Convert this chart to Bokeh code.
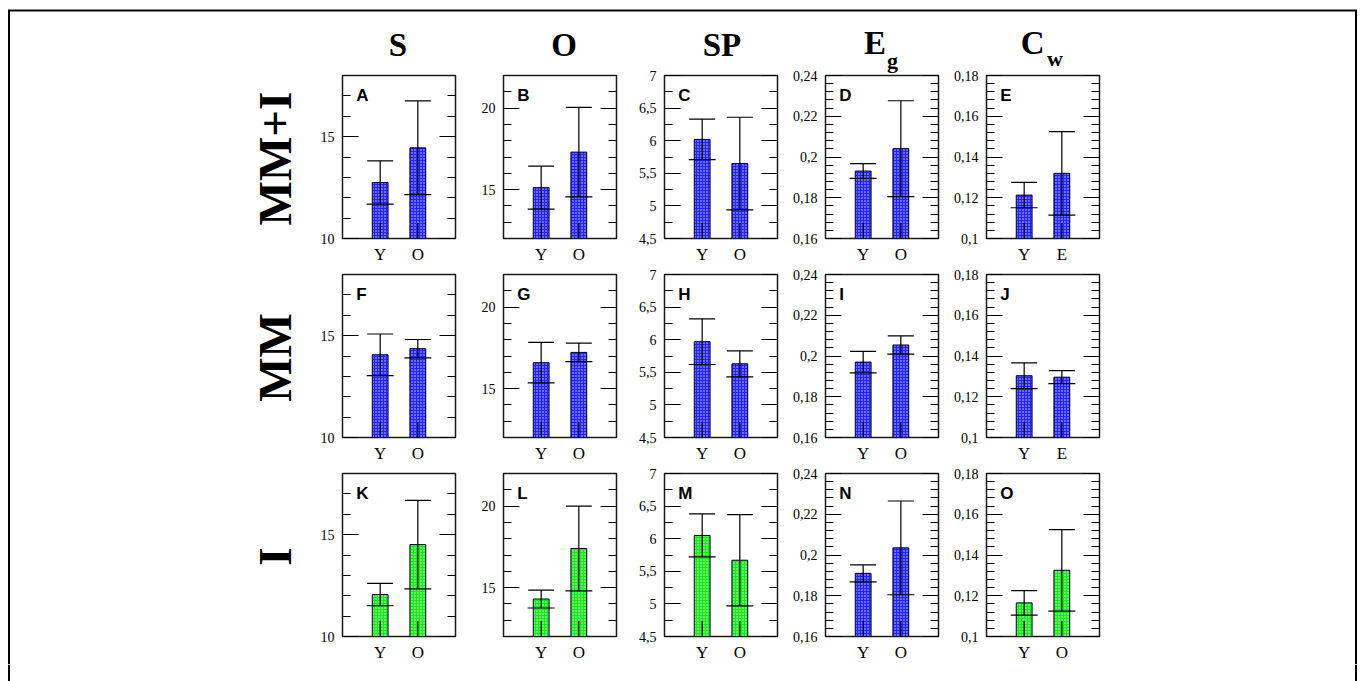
from bokeh.plotting import figure
from bokeh.models import (Range1d, FactorRange, LinearAxis, FixedTicker,
                          CustomJSTickFormatter, ColumnDataSource, Whisker,
                          TeeHead)
from bokeh.layouts import column, row
from bokeh.embed import file_html
from bokeh.resources import INLINE
from bokeh.core.properties import value

# ---------------- data ----------------
ROWS = ["MM+I", "MM", "I"]
COLS = ["S", "O", "SP", "Eg", "Cw"]
LETTERS = [["A", "B", "C", "D", "E"],
           ["F", "G", "H", "I", "J"],
           ["K", "L", "M", "N", "O"]]
GROUPS = ["Y", "O"]
GROUPS_CW = [["Y", "E"], ["Y", "E"], ["Y", "O"]]

# means / error (rows: MM+I, MM, I ; each [Y, O])
S_mean = [[12.75, 14.45], [14.06, 14.36], [12.06, 14.51]]
S_err = [[1.06, 2.30], [1.02, 0.45], [0.55, 2.17]]
O_mean = [[15.12, 17.30], [16.59, 17.22], [14.30, 17.40]]
O_err = [[1.32, 2.75], [1.24, 0.57], [0.55, 2.60]]
SP_mean = [[6.02, 5.65], [5.97, 5.63], [6.05, 5.67]]
SP_err = [[0.31, 0.71], [0.35, 0.20], [0.33, 0.70]]
Eg_mean = [[0.1931, 0.2041], [0.1970, 0.2054], [0.1910, 0.2035]]
Eg_err = [[0.0036, 0.0235], [0.0053, 0.0045], [0.0042, 0.0230]]
Cw_mean = [[0.1213, 0.1320], [0.1303, 0.1296], [0.1165, 0.1325]]
Cw_err = [[0.0062, 0.0205], [0.0063, 0.0032], [0.0060, 0.0200]]

# axes
S_range = (10, 18)
S_major = [10, 15]
S_minor = [11, 12, 13, 14, 16, 17]
O_range = (12, 22)
O_major = [15, 20]
O_minor = [13, 14, 16, 17, 18, 19, 21]
SP_range = (4.5, 7)
SP_major = [4.5, 5, 5.5, 6, 6.5, 7]
SP_minor = [4.75, 5.25, 5.75, 6.25, 6.75]
Eg_range = (0.16, 0.24)
Eg_major = [0.16, 0.18, 0.2, 0.22, 0.24]
Eg_minor = [0.164, 0.168, 0.172, 0.176, 0.184, 0.188, 0.192, 0.196,
            0.204, 0.208, 0.212, 0.216, 0.224, 0.228, 0.232, 0.236]
Cw_range = (0.1, 0.18)
Cw_major = [0.1, 0.12, 0.14, 0.16, 0.18]
Cw_minor = [0.104, 0.108, 0.112, 0.116, 0.124, 0.128, 0.132, 0.136,
            0.144, 0.148, 0.152, 0.156, 0.164, 0.168, 0.172, 0.176]

MEANS = [S_mean, O_mean, SP_mean, Eg_mean, Cw_mean]
ERRS = [S_err, O_err, SP_err, Eg_err, Cw_err]
RANGES = [S_range, O_range, SP_range, Eg_range, Cw_range]
MAJORS = [S_major, O_major, SP_major, Eg_major, Cw_major]
MINORS = [S_minor, O_minor, SP_minor, Eg_minor, Cw_minor]

# ---------------- layout constants (page has no margin) ----------------
TOTAL_W = 1358
TOTAL_H = 681
HDR_H = 75          # header overlaps the first panel row by HDR_OVER px
HDR_OVER = 8
LBL_W = 302
PW = 161
ML, MR = 40, 8
FRAME_W = PW - ML - MR
FRAME_H = 166
T, B = 8, 25
PH = T + FRAME_H + B
GRID_W = PW * 5
GRID_H = PH * 3
RIGHT_W = TOTAL_W - LBL_W - GRID_W
FOOT_H = TOTAL_H - (HDR_H - HDR_OVER) - GRID_H
BORDER_L = 8.5
BORDER_R = 1355.5
BORDER_T = 10

BLUE = "#2424ff"
GREEN = "#1ee61e"
SERIF = "Liberation Serif"
SANS = "Liberation Sans"

fmt_code = "return String(Math.round(tick * 10000) / 10000).replace('.', ',');"


def make_panel(r, c):
    lo, hi = RANGES[c]
    cats = GROUPS_CW[r] if c == 4 else GROUPS
    means = MEANS[c][r]
    errs = ERRS[c][r]
    color = GREEN if (r == 2 and c != 3) else BLUE
    p = figure(width=PW, height=PH,
               x_range=FactorRange(factors=cats, range_padding=0.5),
               y_range=Range1d(lo, hi),
               output_backend="svg", toolbar_location=None,
               min_border_left=ML, min_border_right=MR,
               min_border_top=T, min_border_bottom=B)
    p.xgrid.visible = False
    p.ygrid.visible = False
    p.outline_line_color = "#1a1a1a"
    p.outline_line_width = 1.5

    src = ColumnDataSource(dict(
        x=cats, top=means,
        upper=[m + e for m, e in zip(means, errs)],
        lower=[m - e for m, e in zip(means, errs)],
        base=[lo, lo],
        stub=[lo + 0.095 * (hi - lo)] * 2,
    ))
    p.vbar(x="x", top="top", bottom="base", width=0.42, source=src,
           fill_color=color, line_color="#000022", line_width=1,
           hatch_pattern=".", hatch_color="white", hatch_alpha=0.8,
           hatch_scale=3, hatch_weight=1)
    p.segment(x0="x", y0="base", x1="x", y1="stub", source=src,
              line_color="black", line_width=1.2)
    w = Whisker(source=src, base="x", upper="upper", lower="lower",
                line_color="black", line_width=1.2, level="overlay",
                upper_head=TeeHead(size=26, line_color="black", line_width=1.2),
                lower_head=TeeHead(size=27, line_color="black", line_width=1.2))
    p.add_layout(w)

    p.text(x=[cats[0]], y=[hi], text=[LETTERS[r][c]], x_offset=-24, y_offset=10,
           text_baseline="top", text_align="left",
           text_font=value(SANS), text_font_style="bold",
           text_font_size="17px", text_color="black")

    ticker = FixedTicker(ticks=MAJORS[c], minor_ticks=MINORS[c])
    ya = p.yaxis[0]
    ya.ticker = ticker
    ya.formatter = CustomJSTickFormatter(code=fmt_code)
    ya.axis_line_color = None
    ya.major_tick_in = 16
    ya.major_tick_out = 0
    ya.minor_tick_in = 8
    ya.minor_tick_out = 0
    ya.major_tick_line_color = "black"
    ya.minor_tick_line_color = "black"
    ya.major_tick_line_width = 1.2
    ya.minor_tick_line_width = 1.2
    ya.major_label_text_font = SERIF
    ya.major_label_text_font_size = "14px"
    ya.major_label_text_color = "black"
    ya.major_label_standoff = 8

    ra = LinearAxis(ticker=ticker,
                    formatter=CustomJSTickFormatter(code="return '';"),
                    axis_line_color=None,
                    major_tick_in=16, major_tick_out=0,
                    minor_tick_in=8, minor_tick_out=0,
                    major_tick_line_color="black", minor_tick_line_color="black",
                    major_tick_line_width=1.2, minor_tick_line_width=1.2,
                    major_label_text_font_size="0px", major_label_standoff=0)
    p.add_layout(ra, "right")

    xa = p.xaxis[0]
    xa.axis_line_color = None
    xa.major_tick_in = 0
    xa.major_tick_out = 0
    xa.major_label_text_font = SERIF
    xa.major_label_text_font_size = "17px"
    xa.major_label_text_color = "black"
    xa.major_label_standoff = 6
    return p


def blank(w, h, **kw):
    f = figure(width=w, height=h, x_range=Range1d(0, w), y_range=Range1d(0, h),
               x_axis_location=None, y_axis_location=None,
               toolbar_location=None, output_backend="svg", min_border=0,
               outline_line_color=None, **kw)
    f.grid.visible = False
    return f


def vlines(f, xs, y0, y1):
    f.segment(x0=xs, x1=xs, y0=[y0] * len(xs), y1=[y1] * len(xs),
              line_color="black", line_width=2)


bold_serif = dict(text_font=value(SERIF), text_font_style="bold",
                  text_color="black", text_baseline="middle")

# header: top border + column titles (transparent, overlapping row 1 a bit)
hdr = blank(TOTAL_W, HDR_H, background_fill_color=None, border_fill_color=None,
            styles={"margin-bottom": f"-{HDR_OVER}px", "position": "relative",
                    "z-index": "5"})
hdr.segment(x0=[BORDER_L - 1], x1=[BORDER_R + 1], y0=[HDR_H - BORDER_T],
            y1=[HDR_H - BORDER_T], line_color="black", line_width=2)
vlines(hdr, [BORDER_L, BORDER_R], 0, HDR_H - BORDER_T)
col_cx = [LBL_W + ML + FRAME_W / 2 + PW * c for c in range(5)]
hdr.text(x=[col_cx[0] - 1, col_cx[1] + 4, col_cx[2] + 1],
         y=[HDR_H - 44] * 3, text=[COLS[0], COLS[1], COLS[2]],
         text_align="center", text_font_size="33px", **bold_serif)
hdr.text(x=[col_cx[3] + 4, col_cx[4] + 1.5], y=[HDR_H - 42] * 2,
         text=[COLS[3][0], COLS[4][0]], text_align="right",
         text_font_size="33px", **bold_serif)
hdr.text(x=[col_cx[3] + 5, col_cx[4] + 4], y=[HDR_H - 59.5, HDR_H - 57.5],
         text=[COLS[3][1], COLS[4][1]], text_align="left",
         text_font_size="22px", **bold_serif)

# left row labels
lbl = blank(LBL_W, GRID_H)
vlines(lbl, [BORDER_L], 0, GRID_H)
row_cy = [GRID_H - (PH * r + T + FRAME_H / 2) for r in range(3)]
lbl.text(x=[274] * 3, y=row_cy, text=ROWS, angle=1.5707963,
         text_align="center", text_font_size="47px", **bold_serif)

# right filler
rgt = blank(RIGHT_W, GRID_H)
vlines(rgt, [BORDER_R - LBL_W - GRID_W], 0, GRID_H)

# footer
foot = blank(TOTAL_W, FOOT_H)
vlines(foot, [BORDER_L, BORDER_R], 0, FOOT_H)

grid = column(*[row(*[make_panel(r, c) for c in range(5)]) for r in range(3)])
layout = column(hdr, row(lbl, grid, rgt), foot)

open("out.html", "w").write(file_html(layout, INLINE))
